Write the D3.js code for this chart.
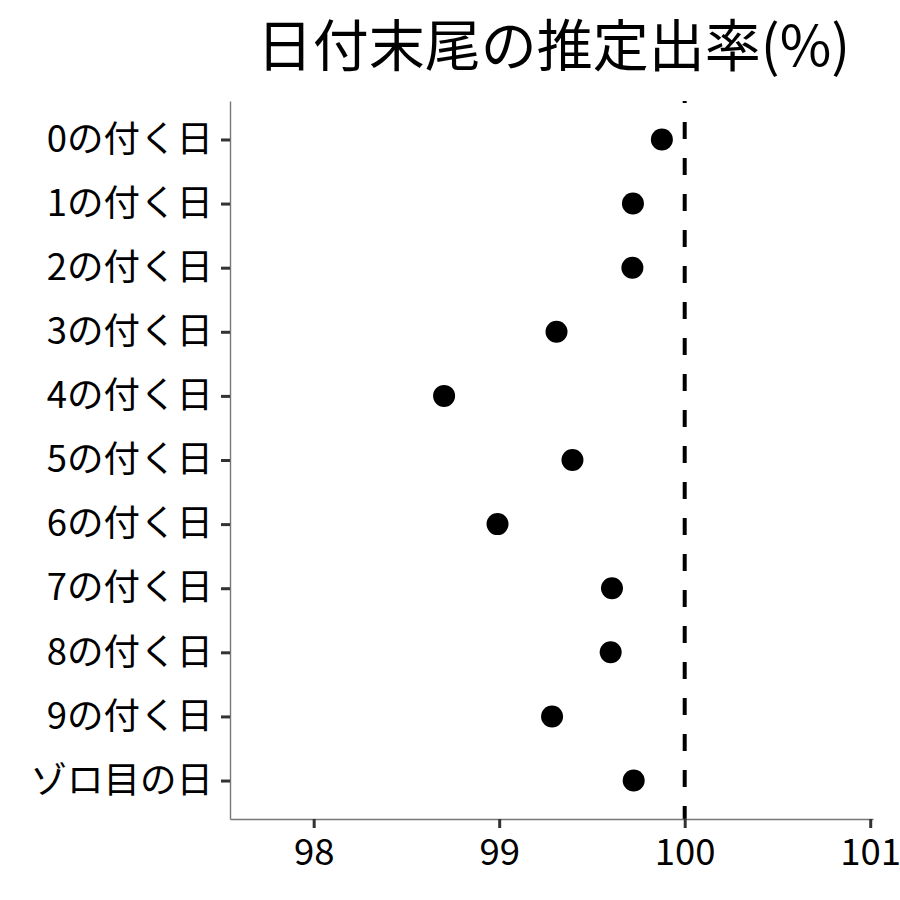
<!DOCTYPE html>
<html>
<head>
<meta charset="utf-8">
<script src="https://cdn.jsdelivr.net/npm/d3@7"></script>
<style>
  body { margin: 0; background: #fff; }
  svg { display: block; }
</style>
</head>
<body>
<svg width="900" height="900"></svg>
<script>
// estimated rates per category
const categories = ['0の付く日', '1の付く日', '2の付く日', '3の付く日', '4の付く日',
  '5の付く日', '6の付く日', '7の付く日', '8の付く日', '9の付く日', 'ゾロ目の日'];
const rates = [99.877, 99.721, 99.718, 99.309, 98.703, 99.395, 98.991, 99.608, 99.601, 99.285, 99.725];
const xTicks = [98, 99, 100, 101];
const refLine = 100;
const title = '日付末尾の推定出率(%)';

const font = '"Noto Sans CJK JP", "Noto Sans", sans-serif';
const svg = d3.select('svg');
const margin = { top: 101, right: 27, bottom: 81, left: 230 };
const width = 900 - margin.left - margin.right;
const height = 900 - margin.top - margin.bottom;

const chart = svg.append('g')
  .attr('transform', `translate(${margin.left}, ${margin.top})`);

const x = d3.scaleLinear()
  .domain([97.549, 101.015])
  .range([0, width]);

const y = d3.scalePoint()
  .domain(categories)
  .range([0, height])
  .padding(0.6);

// reference line at 100% (drawn bottom to top, like ggplot)
chart.append('line')
  .attr('x1', x(refLine)).attr('x2', x(refLine))
  .attr('y1', height).attr('y2', 0)
  .attr('stroke', '#000')
  .attr('stroke-width', 4)
  .attr('stroke-dasharray', '17,19')
  .attr('stroke-dashoffset', 4);

// x-axis
const xAxis = chart.append('g')
  .attr('transform', `translate(0, ${height})`)
  .call(d3.axisBottom(x).tickValues(xTicks).tickFormat(d3.format('d'))
    .tickSize(9).tickSizeOuter(0).tickPadding(9));

// y-axis
const yAxis = chart.append('g')
  .call(d3.axisLeft(y).tickSize(9).tickSizeOuter(0).tickPadding(8));

[xAxis, yAxis].forEach((ax) => {
  ax.select('.domain').attr('stroke', '#777').attr('stroke-width', 1.4);
  ax.selectAll('.tick line').attr('stroke', '#333').attr('stroke-width', 3);
  ax.selectAll('.tick text')
    .attr('fill', '#000')
    .style('font-family', font)
    .style('font-size', '36.5px');
});
xAxis.selectAll('.tick text').attr('dy', '0.78em');

// points
chart.selectAll('circle')
  .data(rates)
  .enter().append('circle')
  .attr('cx', d => x(d))
  .attr('cy', (d, i) => y(categories[i]))
  .attr('r', 11)
  .attr('fill', '#000');

// title centred over the panel
svg.append('text')
  .attr('x', margin.left + width / 2 + 2)
  .attr('y', 66)
  .attr('text-anchor', 'middle')
  .style('font-family', font)
  .style('font-size', '56px')
  .text(title);
</script>
</body>
</html>
